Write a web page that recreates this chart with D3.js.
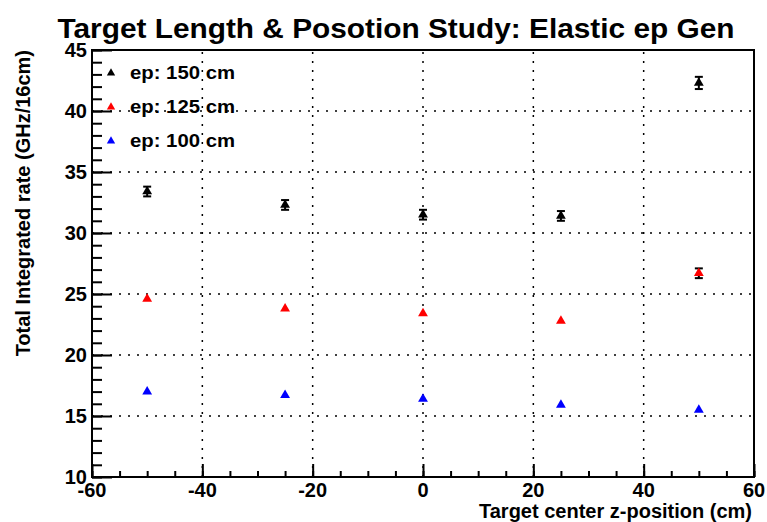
<!DOCTYPE html>
<html>
<head>
<meta charset="utf-8">
<script src="https://cdn.jsdelivr.net/npm/d3@7"></script>
<style>
  body { margin: 0; background: #fff; }
  text { font-family: "Liberation Sans", Arial, sans-serif; font-weight: bold; }
</style>
</head>
<body>
<div id="chart"></div>
<script>
// data
var zPos = [-50, -25, 0, 25, 50];
var rate150 = [33.4, 32.3, 31.5, 31.4, 42.3];
var err150 = [0.4, 0.4, 0.4, 0.4, 0.5];
var rate125 = [24.6, 23.8, 23.4, 22.8, 26.7];
var err125 = [0, 0, 0, 0, 0.4];
var rate100 = [17.0, 16.7, 16.4, 15.9, 15.5];
var err100 = [0, 0, 0, 0, 0];
var seriesNames = ['ep: 150 cm', 'ep: 125 cm', 'ep: 100 cm'];
var seriesColors = ['#000000', '#ff0000', '#0000ff'];
var xTicks = [-60, -40, -20, 0, 20, 40, 60];
var yTicks = [10, 15, 20, 25, 30, 35, 40, 45];

function Plot(){
    this.sizes = {width: 767, height: 522};
    this.frame = {left: 92, right: 754, top: 50, bottom: 477};
}

Plot.prototype.make_svg = function(){
    this.svg = d3.select('#chart').append('svg')
        .attr('width', this.sizes.width)
        .attr('height', this.sizes.height);
    this.x = d3.scaleLinear().domain([-60, 60]).range([this.frame.left, this.frame.right]);
    this.y = d3.scaleLinear().domain([10, 45]).range([this.frame.bottom, this.frame.top]);
};

Plot.prototype.grid = function(){
    var f = this.frame, x = this.x, y = this.y;
    var g = this.svg.append('g').attr('stroke', '#000').attr('stroke-width', 1.5)
        .attr('stroke-dasharray', '2,7');
    g.selectAll('line.gx').data(xTicks.slice(1, -1)).enter().append('line')
        .attr('x1', function(d){ return x(d); }).attr('x2', function(d){ return x(d); })
        .attr('y1', f.bottom).attr('y2', f.top);
    g.selectAll('line.gy').data(yTicks.slice(1, -1)).enter().append('line')
        .attr('y1', function(d){ return y(d); }).attr('y2', function(d){ return y(d); })
        .attr('x1', f.left).attr('x2', f.right);
};

Plot.prototype.axes = function(){
    var f = this.frame, x = this.x, y = this.y, svg = this.svg;
    // x axis, ticks point up into the frame
    var xMinor = d3.range(-60, 61, 5);
    svg.append('g').attr('transform', 'translate(0,' + f.bottom + ')')
        .call(d3.axisTop(x).tickValues(xMinor).tickSize(6).tickFormat(''))
        .call(function(g){ g.select('.domain').remove(); g.selectAll('line').attr('stroke-width', 2); });
    svg.append('g').attr('transform', 'translate(0,' + f.bottom + ')')
        .call(d3.axisTop(x).tickValues(xTicks).tickSize(13).tickFormat(''))
        .call(function(g){ g.select('.domain').remove(); g.selectAll('line').attr('stroke-width', 2); });
    svg.append('g').selectAll('text').data(xTicks).enter().append('text')
        .attr('x', function(d){ return x(d); }).attr('y', f.bottom + 20)
        .attr('text-anchor', 'middle').attr('font-size', 20)
        .text(function(d){ return d; });

    var yMinor = d3.range(10, 46, 1);
    svg.append('g').attr('transform', 'translate(' + f.left + ',0)')
        .call(d3.axisRight(y).tickValues(yMinor).tickSize(10).tickFormat(''))
        .call(function(g){ g.select('.domain').remove(); g.selectAll('line').attr('stroke-width', 2); });
    svg.append('g').attr('transform', 'translate(' + f.left + ',0)')
        .call(d3.axisRight(y).tickValues(yTicks).tickSize(20).tickFormat(''))
        .call(function(g){ g.select('.domain').remove(); g.selectAll('line').attr('stroke-width', 2); });
    svg.append('g').selectAll('text').data(yTicks).enter().append('text')
        .attr('x', f.left - 5).attr('y', function(d){ return y(d) + 7; })
        .attr('text-anchor', 'end').attr('font-size', 20)
        .text(function(d){ return d; });

    // frame
    svg.append('rect').attr('x', f.left).attr('y', f.top)
        .attr('width', f.right - f.left).attr('height', f.bottom - f.top)
        .attr('fill', 'none').attr('stroke', '#000').attr('stroke-width', 2);

    // titles
    svg.append('text').attr('x', 396).attr('y', 38).attr('text-anchor', 'middle')
        .attr('font-size', 27).attr('textLength', 677).attr('lengthAdjust', 'spacingAndGlyphs')
        .text('Target Length & Posotion Study: Elastic ep Gen');
    svg.append('text').attr('x', f.right - 2).attr('y', 518).attr('text-anchor', 'end')
        .attr('font-size', 20)
        .text('Target center z-position (cm)');
    svg.append('text').attr('transform', 'translate(30,' + f.top + ') rotate(-90)')
        .attr('text-anchor', 'end').attr('font-size', 20)
        .text('Total Integrated rate (GHz/16cm)');
};

Plot.prototype.points = function(){
    var x = this.x, y = this.y, svg = this.svg;
    var series = [
        {vals: rate150, errs: err150, color: seriesColors[0]},
        {vals: rate125, errs: err125, color: seriesColors[1]},
        {vals: rate100, errs: err100, color: seriesColors[2]}
    ];
    var tri = d3.symbol().type(d3.symbolTriangle).size(42);
    series.forEach(function(s){
        var pts = zPos.map(function(z, i){ return {z: z, v: s.vals[i], e: s.errs[i]}; });
        var eb = svg.append('g').attr('stroke', '#000').attr('stroke-width', 2);
        pts.filter(function(p){ return p.e > 0; }).forEach(function(p){
            eb.append('line').attr('x1', x(p.z)).attr('x2', x(p.z))
                .attr('y1', y(p.v - p.e)).attr('y2', y(p.v + p.e));
            [p.v - p.e, p.v + p.e].forEach(function(v){
                eb.append('line').attr('x1', x(p.z) - 4).attr('x2', x(p.z) + 4)
                    .attr('y1', y(v)).attr('y2', y(v));
            });
        });
        svg.append('g').selectAll('path').data(pts).enter().append('path')
            .attr('d', tri)
            .attr('transform', function(p){ return 'translate(' + x(p.z) + ',' + y(p.v) + ')'; })
            .attr('fill', s.color);
    });
};

Plot.prototype.legend = function(){
    var svg = this.svg;
    var tri = d3.symbol().type(d3.symbolTriangle).size(30);
    var g = svg.append('g');
    seriesNames.forEach(function(name, i){
        var cy = 73 + i * 34;
        g.append('path').attr('d', tri)
            .attr('transform', 'translate(111,' + cy + ')')
            .attr('fill', seriesColors[i]);
        g.append('text').attr('x', 130).attr('y', cy + 6)
            .attr('font-size', 19).attr('textLength', 105).attr('lengthAdjust', 'spacingAndGlyphs')
            .text(name);
    });
};

Plot.prototype.runit = function(){
    this.make_svg();
    this.grid();
    this.axes();
    this.points();
    this.legend();
};

var plot = new Plot();
plot.runit();
</script>
</body>
</html>
